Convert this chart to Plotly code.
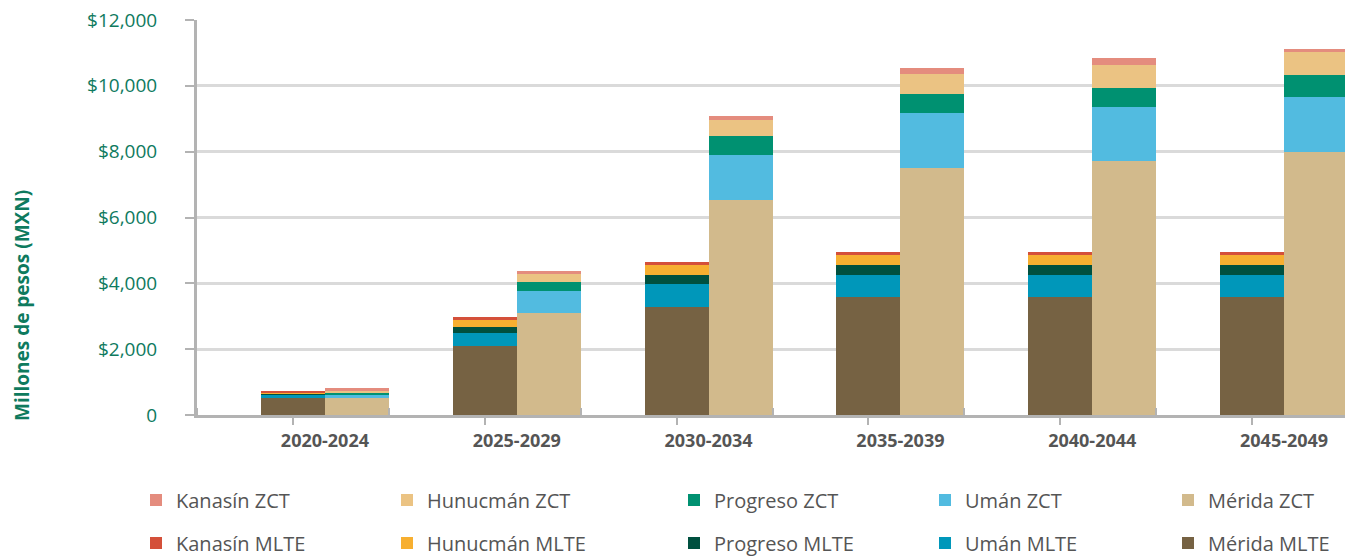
import plotly.graph_objects as go

categories = ["2020-2024", "2025-2029", "2030-2034", "2035-2039", "2040-2044", "2045-2049"]

merida_mlte = [530, 2110, 3270, 3570, 3570, 3575]
uman_mlte = [100, 385, 700, 690, 690, 690]
progreso_mlte = [20, 180, 285, 295, 295, 285]
hunucman_mlte = [15, 215, 305, 305, 305, 305]
kanasin_mlte = [75, 90, 80, 100, 100, 100]

merida_zct = [530, 3090, 6520, 7505, 7705, 8000]
uman_zct = [100, 680, 1375, 1670, 1650, 1660]
progreso_zct = [60, 285, 580, 580, 590, 680]
hunucman_zct = [30, 215, 485, 595, 700, 690]
kanasin_zct = [100, 100, 120, 190, 200, 100]

y_tickvals = [0, 2000, 4000, 6000, 8000, 10000, 12000]
y_ticktext = ["0", "$2,000", "$4,000", "$6,000", "$8,000", "$10,000", "$12,000"]

FONT = "Open Sans"
GREEN = "#0E7A5E"
GRAY_TXT = "#555555"
AXIS_GRAY = "#B3B3B3"

# the page body has an 8px margin, so the figure is drawn 8px in from the window edge
OFF = 8
W, H = 1353 - OFF, 558 - OFF
ML, MR, MT, MB = 197 - OFF, 5, 20 - OFF, 143
PW, PH = W - ML - MR, H - MT - MB


def px_to_paper_x(px):
    return (px - OFF - ML) / PW


def px_to_paper_y(py):
    return (H - MB - (py - OFF)) / PH


BW = 1 / 3
idx = list(range(len(categories)))
x_mlte = [i for i in idx]
x_zct = [i + BW for i in idx]

# legend layout: columns (marker centre px) and rows (centre px), window coords
leg_cols = [154, 405, 692, 943, 1186]
leg_rows = [500, 543]

series = [
    # name, values, color, x, row, col
    ("Mérida MLTE", merida_mlte, "#766243", x_mlte, 1, 4),
    ("Umán MLTE", uman_mlte, "#0097BA", x_mlte, 1, 3),
    ("Progreso MLTE", progreso_mlte, "#00503F", x_mlte, 1, 2),
    ("Hunucmán MLTE", hunucman_mlte, "#F7AF30", x_mlte, 1, 1),
    ("Kanasín MLTE", kanasin_mlte, "#D4503A", x_mlte, 1, 0),
    ("Mérida ZCT", merida_zct, "#D2BA8C", x_zct, 0, 4),
    ("Umán ZCT", uman_zct, "#52BBE0", x_zct, 0, 3),
    ("Progreso ZCT", progreso_zct, "#009171", x_zct, 0, 2),
    ("Hunucmán ZCT", hunucman_zct, "#EBC383", x_zct, 0, 1),
    ("Kanasín ZCT", kanasin_zct, "#E48C7E", x_zct, 0, 0),
]

fig = go.Figure()
legends = {}
for k, (name, vals, color, xs, row, col) in enumerate(series):
    leg_id = "legend" if k == 0 else f"legend{k + 1}"
    fig.add_trace(go.Bar(
        x=xs, y=vals, name=name, width=BW,
        marker=dict(color=color, line=dict(width=0)),
        legend=leg_id,
    ))
    legends[leg_id] = dict(
        orientation="h", xanchor="left", yanchor="middle",
        x=px_to_paper_x(leg_cols[col] - 18), y=px_to_paper_y(leg_rows[row]),
        font=dict(family=FONT, size=20, color=GRAY_TXT),
        bgcolor="rgba(0,0,0,0)", borderwidth=0,
    )

fig.update_layout(**legends)
fig.update_layout(
    width=W, height=H,
    margin=dict(l=ML, r=MR, t=MT, b=MB, autoexpand=False),
    paper_bgcolor="white", plot_bgcolor="white",
    barmode="stack", bargap=0,
    font=dict(family=FONT, color=GRAY_TXT),
    showlegend=True,
    xaxis=dict(
        range=[-0.5, 5.5],
        tickmode="array", tickvals=idx, ticktext=categories,
        ticklabelshift=32,
        tickfont=dict(family=FONT, size=18, color=GRAY_TXT, weight="bold"),
        ticks="outside", ticklen=7, tickwidth=2, tickcolor=AXIS_GRAY,
        showline=True, linecolor=AXIS_GRAY, linewidth=3,
        showgrid=False, zeroline=False,
        minor=dict(tickmode="linear", tick0=-0.5, dtick=1, ticks="inside",
                   ticklen=7, tickwidth=2, tickcolor=AXIS_GRAY, showgrid=False),
    ),
    yaxis=dict(
        range=[0, 12000],
        tickmode="array", tickvals=y_tickvals, ticktext=y_ticktext,
        tickfont=dict(family=FONT, size=19, color=GREEN),
        ticklabeloverflow="allow",
        ticks="outside", ticklen=9, tickwidth=2, tickcolor=AXIS_GRAY,
        ticklabelstandoff=24,
        showline=True, linecolor=AXIS_GRAY, linewidth=3,
        showgrid=True, gridcolor="#DADADA", gridwidth=3,
        zeroline=False,
    ),
    annotations=[dict(
        text="<b>Millones de pesos (MXN)</b>", textangle=-90,
        xref="paper", yref="paper", x=px_to_paper_x(22), y=px_to_paper_y(306),
        xanchor="center", yanchor="middle", showarrow=False,
        font=dict(family=FONT, size=19, color=GREEN),
    )],
)

fig.write_html("out.html")
